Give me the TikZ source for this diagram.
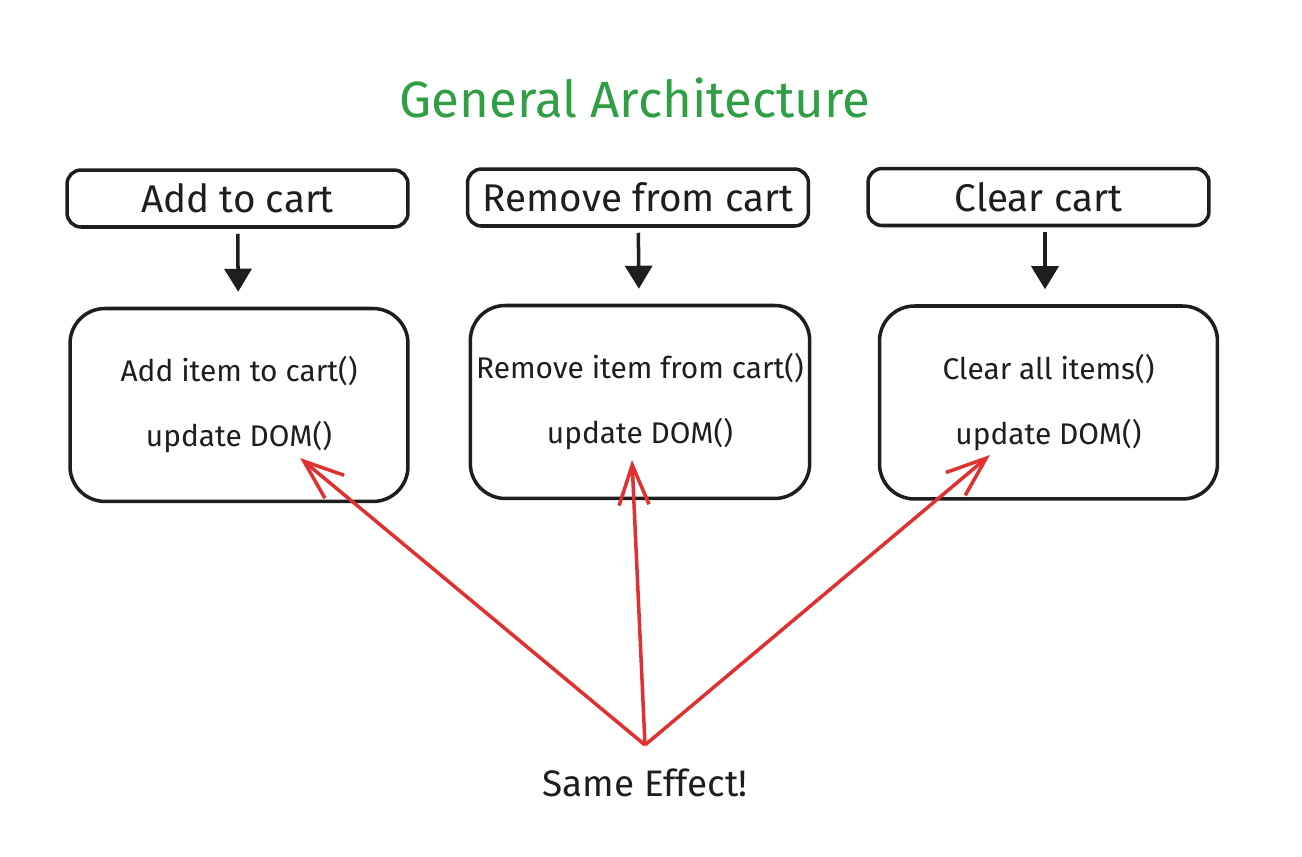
\documentclass[tikz,border=0pt]{standalone}
\usepackage{fontspec}
\setmainfont{Fira Sans}
\usetikzlibrary{positioning,arrows.meta}
\definecolor{ink}{HTML}{1E1E1E}
\definecolor{titlegreen}{HTML}{2F9E44}
\definecolor{effectred}{HTML}{E03131}

\tikzset{
  action/.style = {draw=ink, line width=2pt, rounded corners=8pt,
    minimum width=6.82cm, minimum height=1.14cm, text=ink,
    font=\fontsize{22}{26}\selectfont},
  handler/.style = {draw=ink, line width=2pt, rounded corners=0.7cm,
    minimum width=6.76cm, minimum height=3.86cm, align=center, text=ink,
    font=\fontsize{17}{37}\selectfont},
  trigger/.style = {-{Triangle[length=0.46cm, width=0.54cm]}, draw=ink,
    line width=2pt, shorten <=0.1cm, shorten >=0.3cm},
  effect/.style = {-{Straight Barb[length=0.8cm, width=0.6cm, line width=2pt]},
    draw=effectred, line width=2pt}
}

\begin{document}
\begin{tikzpicture}[x=0.02cm, y=-0.02cm]
\useasboundingbox (0,0) rectangle (1302,856);
\node [text=titlegreen, font=\fontsize{29}{33}\selectfont] (title) at (635,98) {General Architecture};

\node [action] (add) at (237.5,198.5) {Add to cart};
\node [action] (remove) at (638,197.5) {Remove from cart};
\node [action] (clear) at (1038.5,197) {Clear cart};

\node [handler] (additem) [below = 1.56cm of add, xshift=0.03cm] {Add item to cart()\\update DOM()};
\node [handler] (removeitem) [below = 1.52cm of remove, xshift=0.04cm] {Remove item from cart()\\update DOM()};
\node [handler] (clearitems) [below = 1.54cm of clear, xshift=0.2cm] {Clear all items()\\update DOM()};

\draw [trigger] (add) -- (additem);
\draw [trigger] (remove) -- (removeitem);
\draw [trigger] ([xshift=0.13cm]clear.south) -- ([xshift=0.13cm]clear.south |- clearitems.north);

\node [text=ink, font=\fontsize{21}{24}\selectfont] (same) at (645,783) {Same Effect!};
\coordinate (src) at (645,745);
\coordinate (addtip) at (300,458);
\coordinate (removetip) at (632,460);
\coordinate (cleartip) at (990,455);

\draw [effect] (src) -- (addtip);
\draw [effect] (src) -- (removetip);
\draw [effect] (src) -- (cleartip);
\end{tikzpicture}
\end{document}
